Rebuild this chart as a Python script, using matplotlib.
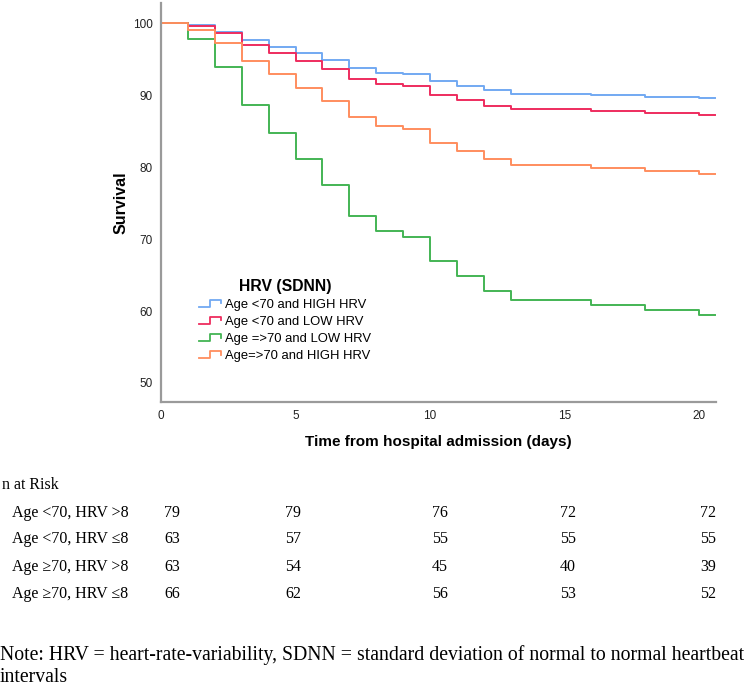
import numpy as np
import matplotlib
matplotlib.use("Agg")
import matplotlib.pyplot as plt
from matplotlib.legend_handler import HandlerBase
from matplotlib.lines import Line2D

# Kaplan-Meier style step curves
days = [0, 1, 2, 3, 4, 5, 6, 7, 8, 9, 10, 11, 12, 13, 16, 18, 20]
follow_up_end = 20.6

young_high = [100, 99.7, 98.8, 97.6, 96.7, 95.8, 94.9, 93.7, 93.1, 92.9,
              92.0, 91.3, 90.7, 90.2, 90.0, 89.8, 89.6]
young_low = [100, 99.6, 98.6, 97.0, 95.9, 94.7, 93.6, 92.2, 91.5, 91.25,
             90.0, 89.35, 88.5, 88.1, 87.8, 87.5, 87.2]
old_low = [100, 97.8, 93.9, 88.6, 84.8, 81.1, 77.5, 73.2, 71.1, 70.3,
           66.9, 64.9, 62.8, 61.5, 60.8, 60.1, 59.5]
old_high = [100, 99.1, 97.3, 94.8, 92.9, 91.0, 89.2, 86.9, 85.7, 85.3,
            83.4, 82.3, 81.1, 80.3, 79.9, 79.5, 79.1]

series_labels = ["Age <70 and HIGH HRV", "Age <70 and LOW HRV",
                 "Age =>70 and LOW HRV", "Age=>70 and HIGH HRV"]
series_colors = ["#72a9f2", "#ee2c5e", "#43b454", "#ff8d5e"]

x_ticks = [0, 5, 10, 15, 20]
y_ticks = [50, 60, 70, 80, 90, 100]

# number at risk table
risk_labels = ["Age <70, HRV >8", "Age <70, HRV \u22648",
               "Age \u226570, HRV >8", "Age \u226570, HRV \u22648"]
risk_counts = [[79, 79, 76, 72, 72],
               [63, 57, 55, 55, 55],
               [63, 54, 45, 40, 39],
               [66, 62, 56, 53, 52]]

W, H = 750, 694


class StepHandler(HandlerBase):
    def create_artists(self, legend, orig_handle, xdescent, ydescent,
                       width, height, fontsize, trans):
        x0 = -xdescent
        y0 = -ydescent
        xs = [x0, x0 + 0.5 * width, x0 + 0.5 * width, x0 + width, x0 + width]
        ys = [y0 + 0.15 * height, y0 + 0.15 * height, y0 + 0.85 * height,
              y0 + 0.85 * height, y0 + 0.5 * height]
        ln = Line2D(xs, ys, color=orig_handle.get_color(), lw=1.3, transform=trans)
        return [ln]


plt.rcParams["font.family"] = ["Liberation Sans", "DejaVu Sans"]

fig = plt.figure(figsize=(W / 100, H / 100), dpi=100)
ax = fig.add_axes([161 / W, 1 - 402 / H, (716 - 161) / W, (402 - 3) / H])

handles = []
for vals, lab, col in zip([young_high, young_low, old_low, old_high],
                          series_labels, series_colors):
    xs = list(days) + [follow_up_end]
    ys = list(vals) + [vals[-1]]
    ln, = ax.plot(xs, ys, drawstyle="steps-post", color=col, lw=1.4, label=lab)
    handles.append(ln)

ax.set_xlim(0, follow_up_end + 0.03)
ax.set_ylim(47.36, 102.8)
ax.set_xticks(x_ticks)
ax.set_yticks(y_ticks)
ax.tick_params(length=0, labelsize=8.5, colors="#222222", pad=6)
for s in ["top", "right"]:
    ax.spines[s].set_visible(False)
for s in ["left", "bottom"]:
    ax.spines[s].set_color("#9a9a9a")
    ax.spines[s].set_linewidth(1.6)

ax.set_ylabel("Survival", fontsize=11.5, fontweight="bold", labelpad=3)
ax.set_xlabel("Time from hospital admission (days)", fontsize=11,
              fontweight="bold", labelpad=9)

leg = ax.legend(handles=handles, title="HRV (SDNN)", loc="upper left",
                bbox_to_anchor=(0.057, 0.325), frameon=False, fontsize=9.4,
                handler_map={Line2D: StepHandler()}, handlelength=1.65,
                handletextpad=0.35, labelspacing=0.38, borderpad=0)
leg.get_title().set_fontweight("bold")
leg.get_title().set_fontsize(11.3)

# number at risk table (serif, below the plot)
serif = ["Liberation Serif", "DejaVu Serif"]
fig.text(2 / W, 1 - 485 / H, "n at Risk", family=serif, fontsize=11.5,
         va="center", ha="left")
row_y = [513, 539, 567, 594]
col_x = [172, 293, 440, 568, 708]
for lab, counts, ry in zip(risk_labels, risk_counts, row_y):
    fig.text(12 / W, 1 - ry / H, lab, family=serif, fontsize=11.5,
             va="center", ha="left")
    for c, cx in zip(counts, col_x):
        fig.text(cx / W, 1 - ry / H, str(c), family=serif, fontsize=11.5,
                 va="center", ha="center")

fig.text(0, 1 - 655 / H,
         "Note: HRV = heart-rate-variability, SDNN = standard deviation of normal to normal heartbeat",
         family=serif, fontsize=14.2, va="center", ha="left")
fig.text(0, 1 - 677 / H, "intervals", family=serif, fontsize=14.2,
         va="center", ha="left")

fig.savefig("out.png", dpi=100)
